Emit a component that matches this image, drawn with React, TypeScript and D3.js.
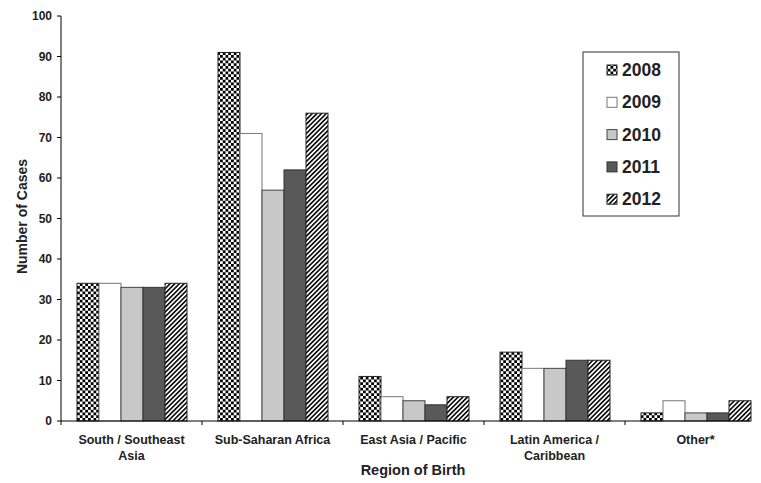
import React from "react";
import * as d3 from "d3";

const categories = ["South / Southeast\nAsia", "Sub-Saharan Africa", "East Asia / Pacific", "Latin America /\nCaribbean", "Other*"];
const years = ["2008", "2009", "2010", "2011", "2012"];
const v2008 = [34, 91, 11, 17, 2];
const v2009 = [34, 71, 6, 13, 5];
const v2010 = [33, 57, 5, 13, 2];
const v2011 = [33, 62, 4, 15, 2];
const v2012 = [34, 76, 6, 15, 5];
const series = [v2008, v2009, v2010, v2011, v2012];
const yTicks = [0, 10, 20, 30, 40, 50, 60, 70, 80, 90, 100];

const fills = ["url(#checker)", "#ffffff", "#c8c8c8", "#595959", "url(#hatch)"];
const strokes = ["#222", "#777", "#444", "#333", "#222"];

const W = 761, H = 483;
const left = 61, top = 16, bottom = 421;
const FONT = "Liberation Sans, Arial, sans-serif";

export default function App() {
  const x = d3.scaleBand<string>().domain(categories).range([left, left + 141 * 5]).paddingInner(0).paddingOuter(0);
  const inner = d3.scaleBand<string>().domain(years).range([16, 126]).paddingInner(0).paddingOuter(0);
  const y = d3.scaleLinear().domain([0, 100]).range([bottom, top]);
  const axisEnd = 750;
  const cs = 2.75;

  return (
    <svg width={W} height={H} style={{ position: "absolute", left: 0, top: 0, background: "#fff" }} fontFamily={FONT}>
      <defs>
        <pattern id="checker" width={cs * 2} height={cs * 2} patternUnits="userSpaceOnUse">
          <rect width={cs * 2} height={cs * 2} fill="#fff" />
          <rect width={cs} height={cs} fill="#000" />
          <rect x={cs} y={cs} width={cs} height={cs} fill="#000" />
        </pattern>
        <pattern id="hatch" width={3.3} height={3.3} patternUnits="userSpaceOnUse" patternTransform="rotate(45)">
          <rect width={3.3} height={3.3} fill="#fff" />
          <rect width={1.55} height={3.3} fill="#000" />
        </pattern>
      </defs>

      {series.map((vals, si) =>
        vals.map((v, ci) => (
          <rect
            key={`${si}-${ci}`}
            x={(x(categories[ci]) as number) + (inner(years[si]) as number)}
            y={y(v)}
            width={inner.bandwidth()}
            height={bottom - y(v)}
            fill={fills[si]}
            stroke={strokes[si]}
            strokeWidth={1}
          />
        ))
      )}

      {/* y axis */}
      <line x1={left} x2={left} y1={top} y2={bottom} stroke="#000" strokeWidth={1} />
      {yTicks.map((t) => (
        <g key={t}>
          <line x1={left - 4} x2={left} y1={y(t)} y2={y(t)} stroke="#000" />
          <text x={52} y={y(t) + 4.3} textAnchor="end" fontSize={12} fontWeight="bold" fill="#222">
            {t}
          </text>
        </g>
      ))}

      {/* x axis */}
      <line x1={left} x2={axisEnd} y1={bottom} y2={bottom} stroke="#000" strokeWidth={1} />
      {categories.map((c, i) => (
        <line key={"xt" + i} x1={x(c) as number} x2={x(c) as number} y1={bottom} y2={bottom + 4} stroke="#000" />
      ))}
      {categories.map((c) => {
        const cx = (x(c) as number) + x.bandwidth() / 2;
        return (
          <text key={c} x={cx} y={444} textAnchor="middle" fontSize={12.5} fontWeight="bold" fill="#222">
            {c.split("\n").map((line, li) => (
              <tspan key={li} x={cx} dy={li === 0 ? 0 : 16}>
                {line}
              </tspan>
            ))}
          </text>
        );
      })}

      <text x={413} y={475} textAnchor="middle" fontSize={14.5} fontWeight="bold" fill="#222">
        Region of Birth
      </text>
      <text transform={`translate(26.5,216.5) rotate(-90)`} textAnchor="middle" fontSize={14} fontWeight="bold" fill="#222">
        Number of Cases
      </text>

      {/* legend */}
      <rect x={583} y={52} width={96} height={164} fill="#fff" stroke="#333" strokeWidth={1} />
      {years.map((yr, i) => {
        const cy = 70 + i * 32.3;
        return (
          <g key={yr}>
            <rect x={607} y={cy - 5} width={10} height={10} fill={fills[i]} stroke={strokes[i]} strokeWidth={1} />
            <text x={622} y={cy + 6} fontSize={17.5} fontWeight="bold" fill="#222">
              {yr}
            </text>
          </g>
        );
      })}
    </svg>
  );
}
